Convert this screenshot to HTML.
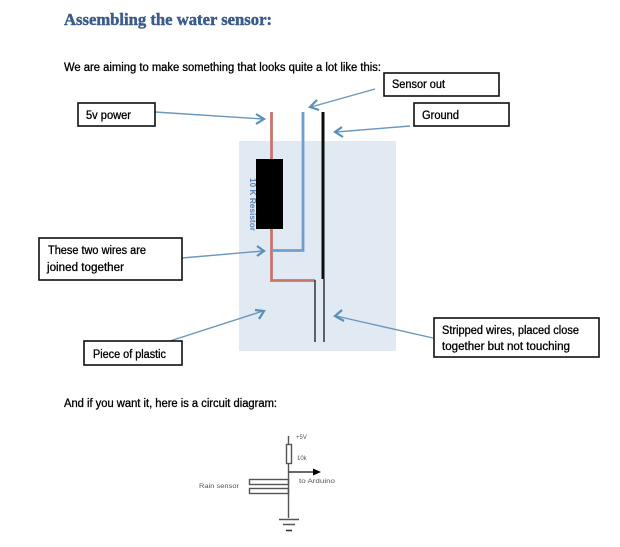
<!DOCTYPE html>
<html><head><meta charset="utf-8"><style>
html,body{margin:0;padding:0;background:#fff}
svg{display:block}
text{font-family:"Liberation Sans",sans-serif;font-size:11.5px;fill:#000;stroke:#000;stroke-width:.3px}
.b{fill:#fff;stroke:#111;stroke-width:1.6}
.a{fill:none;stroke:#6a97bd;stroke-width:1.4}
.h{fill:none;stroke:#5a8fba;stroke-width:2.2}
.c{fill:none;stroke:#555;stroke-width:1.400}
text.s{font-size:6px;fill:#555;stroke:none}
</style></head><body>
<svg width="620" height="547" viewBox="0 0 620 547" xmlns="http://www.w3.org/2000/svg">
<defs><filter id="f" x="0" y="0" width="100%" height="100%"><feGaussianBlur stdDeviation="0.32"/></filter></defs>
<g filter="url(#f)">
<rect x="0" y="0" width="620" height="547" fill="#fff"/>
<text x="64" y="25" textLength="208" lengthAdjust="spacingAndGlyphs" style="font-family:'Liberation Serif',serif;font-weight:bold;font-size:16.500px;fill:#3a5b8b;stroke:#3a5b8b;stroke-width:.45px">Assembling the water sensor:</text>
<text x="64" y="71" textLength="317" lengthAdjust="spacingAndGlyphs">We are aiming to make something that looks quite a lot like this:</text>

<rect x="239" y="141" width="157" height="210" fill="#e1e9f3"/>

<path d="M271.500 112V280.500H315" fill="none" stroke="#c9746c" stroke-width="2.800"/>
<path d="M303 112V250.500H272" fill="none" stroke="#6f9fcb" stroke-width="2.800"/>
<path d="M323 112V279" fill="none" stroke="#111" stroke-width="3"/>
<path d="M315 280V342M324 279V342" fill="none" stroke="#444952" stroke-width="1.700"/>
<rect x="256" y="159" width="27" height="70" fill="#000"/>
<text transform="translate(250,178) rotate(90)" textLength="53" lengthAdjust="spacingAndGlyphs" style="font-size:8.500px;font-weight:bold;fill:#5a86b8;stroke:none">10 K Resistor</text>

<path class="a" d="M155 112L263 119M375 89L311 107M410 126L336 132M182 258L263 251M170 341L263 311M433 338L336 316"/>
<path class="h" d="M256 114L264 119L256 124M317 100L310 107L319 110M342 127L335 132L343 137M257 246L264 251L257 256M255 310L264 311L259 319M342 310L335 316L344 321"/>

<rect class="b" x="78" y="103" width="77" height="23"/>
<text x="86" y="119" textLength="45" lengthAdjust="spacingAndGlyphs">5v power</text>
<rect class="b" x="384" y="73" width="115" height="23"/>
<text x="392" y="88" textLength="53" lengthAdjust="spacingAndGlyphs">Sensor out</text>
<rect class="b" x="414" y="103" width="95" height="23"/>
<text x="422" y="119" textLength="37" lengthAdjust="spacingAndGlyphs">Ground</text>
<rect class="b" x="39" y="238" width="143" height="42"/>
<text x="48" y="254" textLength="98" lengthAdjust="spacingAndGlyphs">These two wires are</text>
<text x="47" y="271" textLength="77" lengthAdjust="spacingAndGlyphs">joined together</text>
<rect class="b" x="84" y="341" width="98" height="24"/>
<text x="93" y="358" textLength="73" lengthAdjust="spacingAndGlyphs">Piece of plastic</text>
<rect class="b" x="434" y="318" width="165" height="39"/>
<text x="442" y="334" textLength="137" lengthAdjust="spacingAndGlyphs">Stripped wires, placed close</text>
<text x="442" y="350" textLength="128" lengthAdjust="spacingAndGlyphs">together but not touching</text>

<text x="64" y="407" textLength="213" lengthAdjust="spacingAndGlyphs">And if you want it, here is a circuit diagram:</text>

<path class="c" d="M288.500 436V444M288.500 463V518M279 519.500H299M283 524.500H295"/>
<rect class="c" x="286.500" y="444.500" width="5" height="19"/>
<path d="M289 472H314" stroke="#111" stroke-width="1.300" fill="none"/>
<path d="M313 468.500L321 472L313 475.500Z" fill="#000"/>
<rect class="c" x="249.500" y="479.500" width="39" height="5"/>
<rect class="c" x="249.500" y="488.500" width="39" height="5"/>
<path d="M286 530.500H292" stroke="#333" stroke-width="1.600"/>
<text class="s" x="296" y="439">+5V</text>
<text class="s" x="297" y="460">10k</text>
<text class="s" x="299" y="483" textLength="36" lengthAdjust="spacingAndGlyphs">to Arduino</text>
<text class="s" x="199" y="488" textLength="40" lengthAdjust="spacingAndGlyphs">Rain sensor</text>
</g>
</svg>
</body></html>
